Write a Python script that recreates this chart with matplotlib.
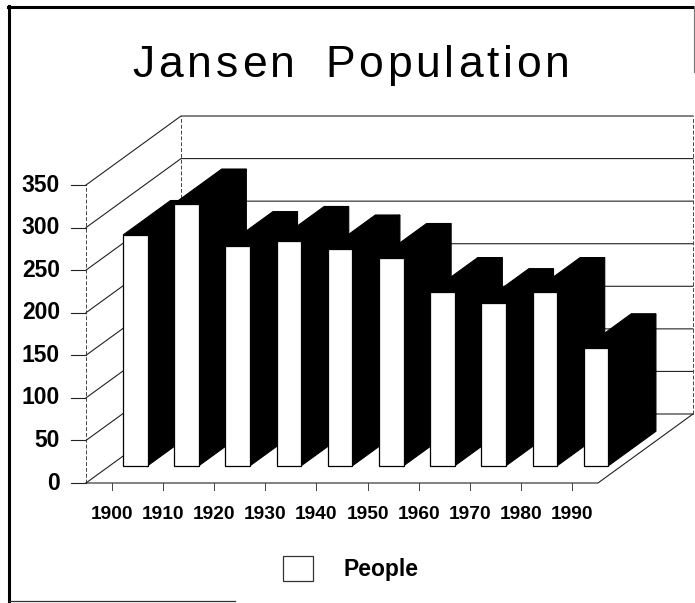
#!/usr/bin/env python3
"""Jansen Population: pseudo-3D bar chart in black and white."""

import matplotlib

matplotlib.use("Agg")
import matplotlib.pyplot as plt
from matplotlib.patches import Polygon, Patch
from matplotlib.lines import Line2D
from matplotlib.font_manager import FontProperties
from matplotlib.textpath import TextToPath

years = ["1900", "1910", "1920", "1930", "1940",
         "1950", "1960", "1970", "1980", "1990"]
people = [271, 308, 258, 264, 254, 244, 204, 191, 204, 138]
y_ticks = [0, 50, 100, 150, 200, 250, 300, 350]
title = "Jansen Population"
series_name = "People"

# geometry of the oblique projection (data units: x = category slot, y = value)
PX_X = 51.2          # pixels per category slot
PX_Y = 0.8514        # pixels per value unit
X0, Y0 = 86, 483     # pixel position of the front-left floor corner
DX = 95 / PX_X       # full depth shift, x
DY = 69 / PX_Y       # full depth shift, y
BAR_W = 0.48
D_FRONT, D_BACK = 0.25, 0.75


def proj(x, y, d):
    return (x + d * DX, y + d * DY)


def spaced_title(fig, text, cx, baseline, width, word_gap, size):
    """Title with wide letter spacing (the original uses tracked type)."""
    W, H = fig.bbox.width, fig.bbox.height
    prop = FontProperties(family="Liberation Sans", size=size)
    ttp = TextToPath()
    words = text.split(" ")
    ink = [[ttp.get_text_width_height_descent(c, prop, ismath=False)[0] * 100 / 72
            for c in w] for w in words]
    n_gaps = sum(len(w) - 1 for w in words)
    total_ink = sum(sum(w) for w in ink) + word_gap * (len(words) - 1)
    gap = (width - total_ink) / n_gaps
    x = cx - width / 2
    for wi, word in enumerate(words):
        for ci, c in enumerate(word):
            fig.text(x / W, 1 - baseline / H, c, ha="left", va="baseline",
                     fontproperties=prop)
            x += ink[wi][ci] + (gap if ci < len(word) - 1 else 0)
        x += word_gap


def main():
    plt.rcParams["font.family"] = ["Liberation Sans", "DejaVu Sans"]
    W, H = 695, 603
    fig = plt.figure(figsize=(W / 100, H / 100), dpi=100)
    ax = fig.add_axes([0, 0, 1, 1])
    ax.set_xlim(-X0 / PX_X, (W - X0) / PX_X)
    ax.set_ylim(-(H - Y0) / PX_Y, Y0 / PX_Y)
    ax.axis("off")

    n = len(years)
    top = y_ticks[-1]
    grid = dict(color="#222222", lw=0.8, zorder=1)

    # walls and floor
    for v in y_ticks:
        xs, ys = zip(proj(0, v, 0), proj(0, v, 1), proj(n, v, 1))
        ax.plot(xs, ys, **grid)
        ax.plot([-0.3, 0], [v, v], **grid)  # tick mark
    for xv, d in [(0, 1), (n, 1)]:
        xs, ys = zip(proj(xv, 0, d), proj(xv, top, d))
        ax.plot(xs, ys, color="#444444", lw=0.7, ls=(0, (4, 2)), zorder=1)
    ax.plot([0, 0], [0, top], color="#444444", lw=0.7, ls=(0, (4, 2)), zorder=1)
    xs, ys = zip(proj(0, 0, 0), proj(n, 0, 0), proj(n, 0, 1))
    ax.plot(xs, ys, **grid)
    for i in range(n):
        ax.plot([i + 0.5, i + 0.5], [0, -8], color="#444444", lw=0.7, zorder=1)

    # bars, left to right so that each front face covers the previous side
    for i, v in enumerate(people):
        xl = i + 0.5 - BAR_W / 2
        xr = i + 0.5 + BAR_W / 2
        side = [proj(xr, 0, D_FRONT), proj(xr, 0, D_BACK),
                proj(xr, v, D_BACK), proj(xr, v, D_FRONT)]
        topf = [proj(xl, v, D_FRONT), proj(xl, v, D_BACK),
                proj(xr, v, D_BACK), proj(xr, v, D_FRONT)]
        front = [proj(xl, 0, D_FRONT), proj(xr, 0, D_FRONT),
                 proj(xr, v, D_FRONT), proj(xl, v, D_FRONT)]
        z = 2 + i
        ax.add_patch(Polygon(side, closed=True, fc="black", ec="black", lw=0.8, zorder=z))
        ax.add_patch(Polygon(topf, closed=True, fc="black", ec="black", lw=0.8, zorder=z))
        ax.add_patch(Polygon(front, closed=True, fc="white", ec="black", lw=0.9, zorder=z))

    # tick labels
    for v in y_ticks:
        ax.text(-26 / PX_X, v, str(v), ha="right", va="center",
                fontsize=16.5, fontweight="bold")
    for i, lab in enumerate(years):
        ax.text(i + 0.5, -36.5, lab, ha="center", va="center",
                fontsize=13.8, fontweight="bold")

    spaced_title(fig, title, cx=351, baseline=77, width=437, word_gap=30, size=32)

    # legend
    handle = Patch(facecolor="white", edgecolor="#333333", lw=0.9)
    fig.legend([handle], [series_name], loc="center left",
               bbox_to_anchor=(283 / W, 1 - 568.5 / H),
               frameon=False, handlelength=1.3, handleheight=1.3,
               handletextpad=1.35, borderpad=0, borderaxespad=0,
               prop=dict(size=16.5, weight="bold"))

    # outer frame
    def fline(x1, y1, x2, y2, lw, color="black"):
        fig.add_artist(Line2D([x1 / W, x2 / W], [1 - y1 / H, 1 - y2 / H],
                              transform=fig.transFigure, lw=lw, color=color))

    fline(9, 6, 9, 603, 2.2)
    fline(8, 7, 694, 7, 2.2)
    fline(694, 6, 694, 72, 0.8, "#777777")
    fline(9, 601, 235, 601, 0.9, "#333333")

    fig.savefig("out.png", dpi=100)


if __name__ == "__main__":
    main()
